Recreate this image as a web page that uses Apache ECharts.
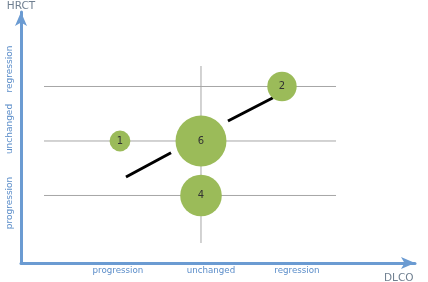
<!DOCTYPE html>
<html><head><meta charset="utf-8">
<script src="https://cdn.jsdelivr.net/npm/echarts@6/dist/echarts.min.js"></script>
<style>html,body{margin:0;padding:0;background:#fff}#c{width:428px;height:282px}</style>
</head><body><div id="c"></div>
<script>
// Category positions: 1 = progression, 2 = unchanged, 3 = regression
const bubbleX = [1, 2, 2, 3];
const bubbleY = [2, 2, 1, 3];
const bubbleCount = [1, 6, 4, 2];
const xTickLabels = ['progression', 'unchanged', 'regression'];
const xTickPos = [0.975, 2.123, 3.185];
const yTickLabels = ['progression', 'unchanged', 'regression'];
const yTickPos = [0.862, 2.22, 3.32];
const hLineLevels = [1, 2, 3];
const hLineRange = [0.062, 3.667];
const vLineLevel = 2;
const vLineRange = [0.128, 3.376];
const trendX = [1.074, 1.63, null, 2.333, 2.889];
const trendY = [1.339, 1.785, null, 2.367, 2.794];

const axisColor = '#6b9bd2';
const labelColor = '#5b8dc9';

const series = [];
hLineLevels.forEach(function (lv) {
  series.push({type: 'line', data: [[hLineRange[0], lv], [hLineRange[1], lv]], symbol: 'none', silent: true,
    lineStyle: {color: '#a6a6a6', width: 1}, z: 1});
});
series.push({type: 'line', data: [[vLineLevel, vLineRange[0]], [vLineLevel, vLineRange[1]]], symbol: 'none', silent: true,
  lineStyle: {color: '#a6a6a6', width: 1}, z: 1});
series.push({type: 'line', data: trendX.map(function (x, i) { return x === null ? [null, null] : [x, trendY[i]]; }),
  connectNulls: false, symbol: 'none', lineStyle: {color: '#000', width: 3}, z: 2});
series.push({type: 'scatter', z: 3,
  data: bubbleX.map(function (x, i) { return [x, bubbleY[i], bubbleCount[i]]; }),
  symbolSize: function (d) { return 20.8 * Math.sqrt(d[2]); },
  itemStyle: {color: '#9bbb59', opacity: 1},
  label: {show: true, position: 'inside', formatter: function (p) { return p.value[2]; },
    color: '#333', fontSize: 10, fontFamily: 'DejaVu Sans'}
});

const chart = echarts.init(document.getElementById('c'), null, {renderer: 'canvas'});
chart.setOption({
  animation: false,
  grid: {left: 21, right: 13, top: 12, bottom: 19, containLabel: false, outerBoundsMode: 'none'},
  xAxis: {type: 'value', min: -0.222, max: 4.642,
    name: 'DLCO', nameLocation: 'end', nameGap: -31,
    nameTextStyle: {color: '#6f7f90', fontSize: 10.5, fontFamily: 'DejaVu Sans', verticalAlign: 'top', padding: [10, 0, 0, 0]},
    axisLine: {show: true, onZero: false, symbol: ['none', 'arrow'], symbolSize: [9, 14], lineStyle: {color: axisColor, width: 3}},
    axisTick: {show: false}, splitLine: {show: false},
    axisLabel: {customValues: xTickPos, margin: 3, color: labelColor, fontSize: 8.7, fontFamily: 'DejaVu Sans',
      formatter: function (v) { const i = xTickPos.findIndex(function (p) { return Math.abs(p - v) < 1e-6; }); return i >= 0 ? xTickLabels[i] : ''; }}
  },
  yAxis: {type: 'value', min: -0.239, max: 4.367,
    name: 'HRCT', nameLocation: 'end', nameGap: 0,
    nameTextStyle: {color: '#6f7f90', fontSize: 10.5, fontFamily: 'DejaVu Sans'},
    axisLine: {show: true, onZero: false, symbol: ['none', 'arrow'], symbolSize: [9, 14], lineStyle: {color: axisColor, width: 3}},
    axisTick: {show: false}, splitLine: {show: false},
    axisLabel: {customValues: yTickPos, rotate: 90, margin: 7, color: labelColor, fontSize: 9, fontFamily: 'DejaVu Sans',
      formatter: function (v) { const i = yTickPos.findIndex(function (p) { return Math.abs(p - v) < 1e-6; }); return i >= 0 ? yTickLabels[i] : ''; }}
  },
  series: series
});
</script></body></html>
